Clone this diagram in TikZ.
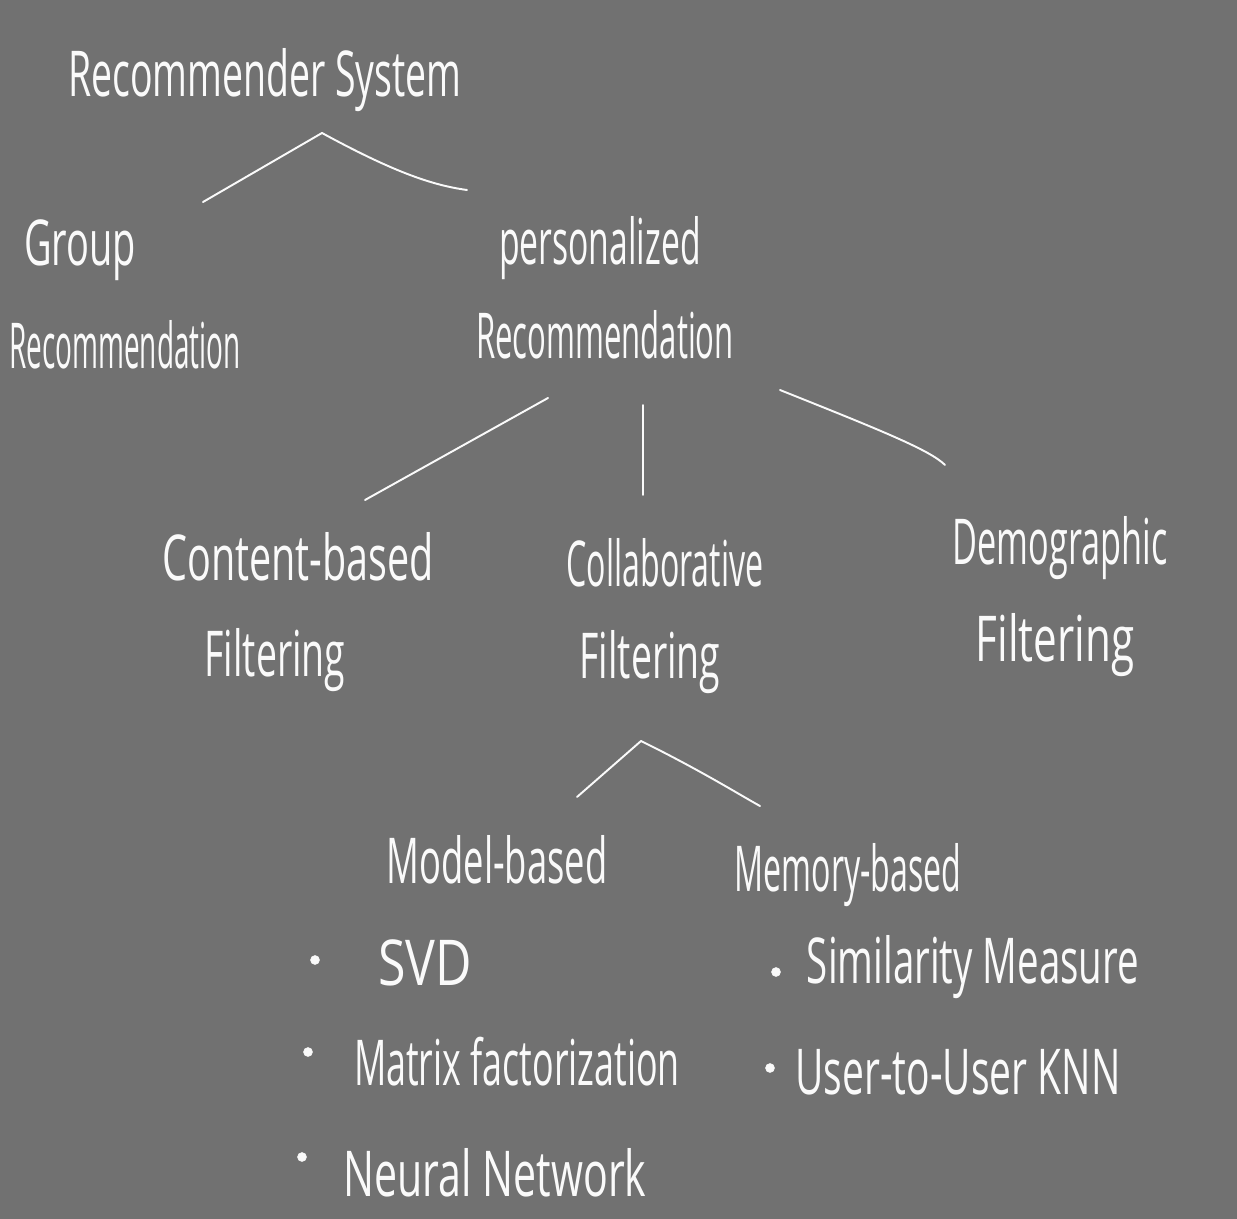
\documentclass[tikz,border=0pt]{standalone}
\usepackage{fontspec}
\setmainfont{Open Sans}
\definecolor{bg}{HTML}{717171}
\definecolor{ink}{HTML}{FAFAFA}
\newcommand{\sq}[2]{\scalebox{#1}[1.2]{#2}}
\begin{document}
\begin{tikzpicture}[x=0.02cm,y=-0.02cm,
  lbl/.style={text=ink,inner sep=0pt,font=\fontsize{30}{36}\selectfont},
  link/.style={draw=ink,line width=1.1pt,line cap=round},
  dot/.style={circle,draw=ink,fill=ink,minimum size=5pt,inner sep=0pt}]
\fill[bg] (0,0) rectangle (1237,1219);
\useasboundingbox (0,0) rectangle (1237,1219);
% nodes
\node[lbl] (rs) at (265,80) {\sq{0.71}{Recommender System}};
\node[lbl] (grp1) at (80,250) {\sq{0.72}{Group}};
\node[lbl] (grp2) at (125,345) {\sq{0.53}{Recommendation}};
\node[lbl] (per1) at (600,248) {\sq{0.64}{personalized}};
\node[lbl] (per2) at (605,335) {\sq{0.59}{Recommendation}};
\node[lbl] (cb1) at (298,557) {\sq{0.75}{Content-based}};
\node[lbl] (cb2) at (275,660) {\sq{0.71}{Filtering}};
\node[lbl] (cf1) at (665,563) {\sq{0.61}{Collaborative}};
\node[lbl] (cf2) at (650,662) {\sq{0.71}{Filtering}};
\node[lbl] (dm1) at (1060,548) {\sq{0.65}{Demographic}};
\node[lbl] (dm2) at (1055,645) {\sq{0.8}{Filtering}};
\node[lbl] (mod) at (497,860) {\sq{0.69}{Model-based}};
\node[lbl] (mem) at (848,875) {\sq{0.61}{Memory-based}};
\node[dot] (b1) at (315,960) {};
\node[dot] (b2) at (308,1052) {};
\node[dot] (b3) at (302,1157) {};
\node[dot] (b4) at (776,972) {};
\node[dot] (b5) at (770,1068) {};
\node[lbl] (svd) at (425,963) {\sq{0.95}{SVD}};
\node[lbl] (mf) at (517,1062) {\sq{0.68}{Matrix factorization}};
\node[lbl] (nn) at (495,1173) {\sq{0.78}{Neural Network}};
\node[lbl] (sim) at (973,967) {\sq{0.73}{Similarity Measure}};
\node[lbl] (knn) at (958,1072) {\sq{0.74}{User-to-User KNN}};
% connector end points
\coordinate (rsA) at (322,133);
\coordinate (grpA) at (203,202);
\coordinate (perA) at (467,190);
\coordinate (p2L) at (548,398);
\coordinate (cbA) at (365,500);
\coordinate (p2M) at (643,405);
\coordinate (cfA) at (643,495);
\coordinate (p2R) at (780,390);
\coordinate (dmA) at (945,465);
\coordinate (cfB) at (641,741);
\coordinate (modA) at (577,797);
\coordinate (memA) at (760,806);
% connectors
\draw[link] (grpA) -- (rsA);
\draw[link] (rsA) .. controls (390,170) and (430,185) .. (perA);
\draw[link] (cbA) -- (p2L);
\draw[link] (p2M) -- (cfA);
\draw[link] (p2R) .. controls (880,430) and (930,450) .. (dmA);
\draw[link] (modA) -- (cfB);
\draw[link] (cfB) .. controls (700,770) and (740,795) .. (memA);
\end{tikzpicture}
\end{document}
